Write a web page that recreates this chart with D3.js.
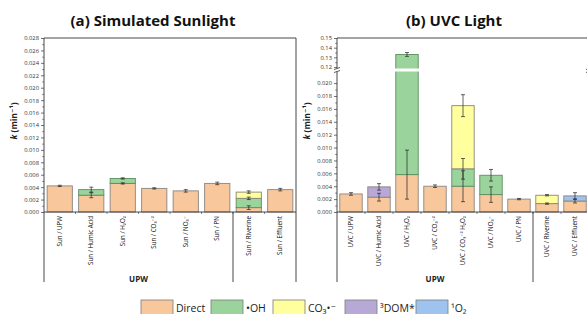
<!DOCTYPE html>
<html>
<head>
<meta charset="utf-8">
<script src="https://cdn.jsdelivr.net/npm/d3@7"></script>
<style>
  body { margin: 0; background: #fff; }
  text { font-family: "Open Sans", "DejaVu Sans", sans-serif; }
</style>
</head>
<body>
<svg id="chart" width="587" height="314"></svg>
<script>
// contribution keys, bottom to top
var keys = ['direct', 'oh', 'co3', 'dom', 'o2'];
var legendLabels = ['Direct', '•OH', 'CO₃•⁻', '³DOM*', '¹O₂'];
var fills = ['#f8c79c', '#9ad49c', '#ffff9d', '#b8a8d6', '#9ec3ef'];

// (a) simulated sunlight
var sunCats = ['Sun / UPW', 'Sun / Humic Acid', 'Sun / H₂O₂', 'Sun / CO₃⁻²', 'Sun / NO₃⁻', 'Sun / PN', 'Sun / Riverine', 'Sun / Effluent'];
var sunDirect = [0.0042, 0.0027, 0.0046, 0.0038, 0.0034, 0.0046, 0.0007, 0.0036];
var sunOH     = [0, 0.0009, 0.0008, 0, 0, 0, 0.0015, 0];
var sunCO3    = [0, 0, 0, 0, 0, 0, 0.0010, 0];
var sunDOM    = [0, 0, 0, 0, 0, 0, 0, 0];
var sunO2     = [0, 0, 0, 0, 0, 0, 0, 0];
var sunDirectErr = [0.0001, 0.0004, 0.0001, 0.0001, 0.0002, 0.0002, 0.0003, 0.0002];
var sunOHErr     = [0, 0.0004, 0.0001, 0, 0, 0, 0.0002, 0];
var sunCO3Err    = [0, 0, 0, 0, 0, 0, 0.0002, 0];
var sunTicks = d3.range(0, 0.0281, 0.002);

// (b) UVC light
var uvcCats = ['UVC / UPW', 'UVC / Humic Acid', 'UVC / H₂O₂', 'UVC / CO₃⁻²', 'UVC / CO₃⁻² H₂O₂', 'UVC / NO₃⁻', 'UVC / PN', 'UVC / Riverine', 'UVC / Effluent'];
var uvcDirect = [0.0028, 0.0023, 0.0058, 0.0040, 0.0040, 0.0027, 0.0020, 0.0013, 0.0017];
var uvcOH     = [0, 0, 0.1272, 0, 0.0027, 0.0030, 0, 0, 0];
var uvcCO3    = [0, 0, 0, 0, 0.0098, 0, 0, 0.0013, 0];
var uvcDOM    = [0, 0.0016, 0, 0, 0, 0, 0, 0, 0];
var uvcO2     = [0, 0, 0, 0, 0, 0, 0, 0, 0.0008];
var uvcDirectErr = [0.0002, 0.0006, 0.0038, 0.0002, 0.0024, 0.0012, 0.0001, 0.0001, 0.0003];
var uvcOHErr     = [0, 0, 0.002, 0, 0.0016, 0.0009, 0, 0, 0];
var uvcCO3Err    = [0, 0, 0, 0, 0.0017, 0, 0, 0.0001, 0];
var uvcDOMErr    = [0, 0.0005, 0, 0, 0, 0, 0, 0, 0];
var uvcO2Err     = [0, 0, 0, 0, 0, 0, 0, 0, 0.0005];
var uvcLowTicks = d3.range(0, 0.0201, 0.002);
var uvcHighTicks = [0.12, 0.13, 0.14, 0.15];

var svg = d3.select('#chart');
var plotBottom = 212, plotTop = 38, bracketY = 282;

function makeRows(cats, series) {
  return cats.map(function(c, i) {
    var r = { cat: c };
    keys.forEach(function(k, j) { r[k] = series[j][i]; });
    return r;
  });
}

function drawPanel(p) {
  var g = svg.append('g');
  var x = d3.scaleBand().domain(p.cats).range([p.x0, p.x1]).paddingInner(0.2).paddingOuter(0.1);
  var rows = makeRows(p.cats, p.series);
  var stacked = d3.stack().keys(keys)(rows);

  // bars
  stacked.forEach(function(layer, li) {
    g.selectAll(null)
      .data(layer.filter(function(d) { return d[1] - d[0] > 0; }))
      .enter()
      .append('rect')
        .attr('x', function(d) { return x(d.data.cat); })
        .attr('width', x.bandwidth())
        .attr('y', function(d) { return p.y(d[1]); })
        .attr('height', function(d) { return p.y(d[0]) - p.y(d[1]); })
        .attr('fill', fills[li])
        .attr('stroke', li == 1 ? '#5b8f5e' : '#8a8480')
        .attr('stroke-width', 0.9);
  });

  // white gap across bars that pass the axis break
  if (p.gap) {
    g.append('rect').attr('x', p.x0 + 1).attr('width', p.x1 - p.x0 - 2)
      .attr('y', p.gap[0]).attr('height', p.gap[1] - p.gap[0]).attr('fill', '#fff');
  }

  // error bars at the top of each segment
  stacked.forEach(function(layer, li) {
    var errs = p.errors[li];
    if (!errs) return;
    layer.forEach(function(d, i) {
      if (!errs[i] || d[1] - d[0] <= 0) return;
      var cx = x(d.data.cat) + x.bandwidth() / 2;
      var y1 = p.y(d[1] + errs[i]), y2 = p.y(d[1] - errs[i]);
      var eb = g.append('g').attr('stroke', '#222').attr('stroke-width', 0.7);
      eb.append('line').attr('x1', cx).attr('x2', cx).attr('y1', y1).attr('y2', y2);
      eb.append('line').attr('x1', cx - 2).attr('x2', cx + 2).attr('y1', y1).attr('y2', y1);
      eb.append('line').attr('x1', cx - 2).attr('x2', cx + 2).attr('y1', y2).attr('y2', y2);
    });
  });

  // y axes
  p.axes.forEach(function(a) {
    var ax = g.append('g').attr('transform', 'translate(' + p.x0 + ',0)')
      .call(d3.axisLeft(a.scale).tickValues(a.ticks).tickFormat(d3.format(a.fmt)).tickSize(3).tickPadding(2));
    ax.select('.domain').remove();
    ax.selectAll('text').attr('font-size', 5.8).attr('fill', '#333');
    ax.selectAll('line').attr('stroke', '#333').attr('stroke-width', 0.7);
    g.append('g').attr('transform', 'translate(' + p.x0 + ',0)')
      .call(d3.axisLeft(a.scale).tickValues(a.minor).tickFormat('').tickSize(1.8))
      .call(function(s) { s.select('.domain').remove(); s.selectAll('line').attr('stroke', '#333').attr('stroke-width', 0.6); });
  });

  // frame, x axis and group brackets
  var lines = g.append('g').attr('stroke', '#333').attr('stroke-width', 0.9).attr('fill', 'none');
  lines.append('line').attr('x1', p.x0).attr('x2', p.x1).attr('y1', plotTop).attr('y2', plotTop);
  lines.append('line').attr('x1', p.x0).attr('x2', p.x1).attr('y1', plotBottom).attr('y2', plotBottom);
  lines.append('line').attr('x1', p.x0).attr('x2', p.x0).attr('y1', plotTop).attr('y2', bracketY);
  lines.append('line').attr('x1', p.x1).attr('x2', p.x1).attr('y1', plotTop).attr('y2', bracketY);
  var sepX = x(p.cats[p.groupSize]) - x.step() * x.paddingInner() / 2;
  lines.append('line').attr('x1', sepX).attr('x2', sepX).attr('y1', plotBottom).attr('y2', bracketY);

  // small ticks between categories on the x axis
  p.cats.slice(1).forEach(function(c) {
    var bx = x(c) - x.step() * x.paddingInner() / 2;
    lines.append('line').attr('x1', bx).attr('x2', bx).attr('y1', plotBottom).attr('y2', plotBottom + 2).attr('stroke-width', 0.6);
  });

  if (p.gap) {
    // axis break marks on both sides
    [p.x0, p.x1].forEach(function(ex) {
      g.append('rect').attr('x', ex - 3).attr('width', 6).attr('y', p.gap[0]).attr('height', p.gap[1] - p.gap[0]).attr('fill', '#fff');
      [p.gap[0], p.gap[1]].forEach(function(gy) {
        g.append('line').attr('x1', ex - 3).attr('x2', ex + 3).attr('y1', gy + 1).attr('y2', gy - 1)
          .attr('stroke', '#333').attr('stroke-width', 0.8);
      });
    });
  }

  // category labels
  g.selectAll(null).data(p.cats).enter().append('text')
    .attr('transform', function(d) { return 'translate(' + (x(d) + x.bandwidth() / 2 + 2) + ',' + (plotBottom + 4) + ') rotate(-90)'; })
    .attr('text-anchor', 'end')
    .attr('font-size', 6.2)
    .attr('fill', '#111')
    .text(function(d) { return d; });

  // group label
  var gx = (p.x0 + sepX) / 2;
  g.append('text').attr('x', gx).attr('y', bracketY).attr('text-anchor', 'middle')
    .attr('font-size', 8).attr('font-weight', 'bold').attr('fill', '#222').text('UPW');

  // titles
  g.append('text').attr('x', p.titleX).attr('y', 26).attr('text-anchor', 'middle')
    .attr('font-size', 15).attr('font-weight', 'bold').attr('fill', '#111').text(p.title);

  var yt = g.append('text').attr('transform', 'translate(' + (p.x0 - 27) + ',121) rotate(-90)')
    .attr('text-anchor', 'middle').attr('font-size', 8.5).attr('font-weight', 'bold').attr('fill', '#222');
  yt.append('tspan').attr('font-style', 'italic').text('k');
  yt.append('tspan').text(' (min⁻¹)');
}

// left panel
var ySun = d3.scaleLinear().domain([0, 0.028]).range([plotBottom, plotTop]);
drawPanel({
  cats: sunCats, x0: 44, x1: 296, y: ySun, groupSize: 6,
  series: [sunDirect, sunOH, sunCO3, sunDOM, sunO2],
  errors: [sunDirectErr, sunOHErr, sunCO3Err],
  axes: [{ scale: ySun, ticks: sunTicks, fmt: '.3f', minor: d3.range(0.001, 0.028, 0.002) }],
  title: '(a) Simulated Sunlight', titleX: 153
});

// right panel with a broken y axis
var lowMax = 0.0218, highMin = 0.1185;
var yLow = d3.scaleLinear().domain([0, lowMax]).range([plotBottom, 71.5]);
var yHigh = d3.scaleLinear().domain([highMin, 0.15]).range([68.5, plotTop]);
function yUvc(v) {
  if (v <= lowMax) return yLow(v);
  if (v >= highMin) return yHigh(v);
  return 70;
}
drawPanel({
  cats: uvcCats, x0: 337, x1: 589, y: yUvc, groupSize: 7, gap: [68.5, 71.5],
  series: [uvcDirect, uvcOH, uvcCO3, uvcDOM, uvcO2],
  errors: [uvcDirectErr, uvcOHErr, uvcCO3Err, uvcDOMErr, uvcO2Err],
  axes: [
    { scale: yLow, ticks: uvcLowTicks, fmt: '.3f', minor: d3.range(0.001, 0.021, 0.002) },
    { scale: yHigh, ticks: uvcHighTicks, fmt: '.2f', minor: [0.125, 0.135, 0.145] }
  ],
  title: '(b) UVC Light', titleX: 454
});

// legend
var legendX = [141, 211, 273, 345, 416];
var legend = svg.append('g').selectAll('g').data(keys).enter().append('g')
  .attr('transform', function(d, i) { return 'translate(' + legendX[i] + ',300)'; });
legend.append('rect').attr('width', 32).attr('height', 15)
  .attr('fill', function(d, i) { return fills[i]; })
  .attr('stroke', '#7a7a7a').attr('stroke-width', 0.8);
legend.append('text').attr('x', 35).attr('y', 12).attr('font-size', 10.5).attr('fill', '#222')
  .text(function(d, i) { return legendLabels[i]; });
</script>
</body>
</html>
